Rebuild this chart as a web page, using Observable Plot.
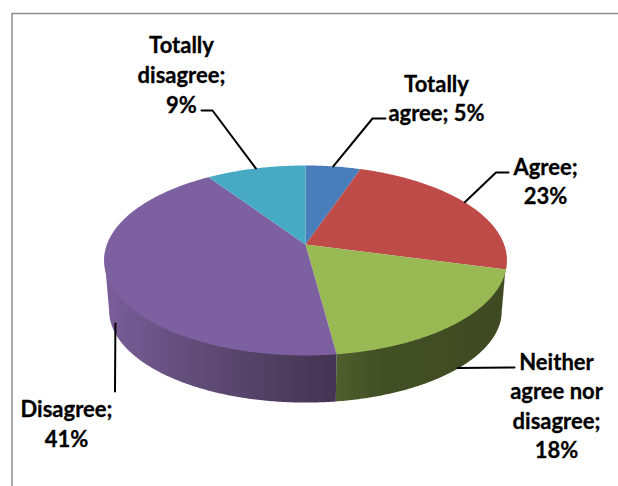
<!DOCTYPE html>
<html>
<head>
<meta charset="utf-8">
<style>
  html, body { margin: 0; padding: 0; background: #fff; }
  svg { display: block; }
</style>
<script src="https://cdn.jsdelivr.net/npm/d3@7"></script>
<script src="https://cdn.jsdelivr.net/npm/@observablehq/plot@0.6"></script>
</head>
<body>
<script>
// Survey answers, in clockwise order from twelve o'clock
const categories = ["Totally agree", "Agree", "Neither agree nor disagree", "Disagree", "Totally disagree"];
const shares = [5, 23, 18, 41, 9];
const wrappedNames = ["Totally\nagree", "Agree", "Neither\nagree nor\ndisagree", "Disagree", "Totally\ndisagree"];
const valueBreaks = [" ", "\n", "\n", "\n", "\n"];
const topColors = ["#4a7ebb", "#be4b48", "#98b954", "#7d60a0", "#46aac4"];
const sideGradients = ["#3a5f8c", "#7f3230", "url(#side-green)", "url(#side-purple)", "#327a8c"];

// Where each label sits and how its leader bends
const labelX = [436, 545, 556, 66, 181];
const labelY = [96.5, 179.5, 404, 422, 73];
const leaderStartNudge = [[0, 0], [-3, -2], [6, -4], [2.5, -5], [0, 0]];
const leaderEnds = [
  [[372, 118], [385, 118]],
  [[495.5, 172], [508, 172]],
  [[514, 367]],
  [[114.5, 391]],
  [[212, 110], [201, 110]]
];
const leaderOnBase = [false, false, true, true, false];

// Perspective view of the disc: the top face and the slightly smaller, lower base
const tilt = 0.168;
const topFace = {cx: 305, cy: 244, a: 198.6, b: 92.3};
const baseFace = {cx: 305, cy: 294.5, a: 193.6, b: 89.5};
const rimUnderlap = {cx: 305, cy: 242.5, a: 198, b: 92};
const project = (face, theta) => {
  const u = Math.sin(theta), v = Math.cos(theta), w = 1 + tilt * v;
  return [face.cx + face.a * u / w, face.cy - face.b * v / w];
};
const arc = (face, t0, t1) => {
  const n = Math.max(2, Math.ceil(Math.abs(t1 - t0) / 0.01));
  return d3.range(n + 1).map(i => project(face, t0 + (t1 - t0) * i / n));
};

// Slice boundaries in radians, normalised over the shares that were answered
const total = d3.sum(shares);
const cumulative = d3.cumsum(shares);
const angle = s => s / total * 2 * Math.PI;
const slices = categories.map((name, i) => ({
  name, i,
  t0: angle(cumulative[i] - shares[i]),
  t1: angle(cumulative[i]),
  mid: angle(cumulative[i] - shares[i] / 2)
}));

// Only the near half of the rim can be seen
const rimFrom = Math.acos(-tilt);
const rimTo = 2 * Math.PI - rimFrom;

const topRings = slices.map(s => ({
  fill: topColors[s.i],
  points: [[topFace.cx, topFace.cy], ...arc(topFace, s.t0, s.t1)]
}));
// The rim runs a little under the top face so no seam shows along the edge
const sideRings = slices
  .filter(s => s.t1 > rimFrom && s.t0 < rimTo)
  .map(s => {
    const t0 = Math.max(s.t0, rimFrom), t1 = Math.min(s.t1, rimTo);
    return {
      fill: sideGradients[s.i],
      points: [...arc(rimUnderlap, t0, t1), ...arc(baseFace, t1, t0)]
    };
  });

const labels = slices.map(s => ({
  text: `${wrappedNames[s.i]};${valueBreaks[s.i]}${shares[s.i]}%`,
  x: labelX[s.i],
  y: labelY[s.i]
}));
const leaders = slices.map(s => {
  const [x, y] = project(leaderOnBase[s.i] ? baseFace : topFace, s.mid);
  const [dx, dy] = leaderStartNudge[s.i];
  return [[x + dx, y + dy], ...leaderEnds[s.i]];
});

// Horizontal shading on the rim, darkening towards the front right
const rimShading = () => {
  const defs = d3.create("svg:defs");
  const stops = (id, list) => {
    const g = defs.append("linearGradient").attr("id", id);
    list.forEach(([o, c]) => g.append("stop").attr("offset", o).attr("stop-color", c));
  };
  stops("side-purple", [[0, "#7a5e9b"], [0.3, "#66507f"], [0.7, "#524063"], [1, "#443352"]]);
  stops("side-green", [[0, "#505f2d"], [0.25, "#434f25"], [1, "#3f4a22"]]);
  return defs.node();
};

const ringMark = r => Plot.line(r.points, {
  x: d => d[0],
  y: d => d[1],
  fill: r.fill,
  stroke: null
});

const chart = Plot.plot({
  width: 618,
  height: 486,
  margin: 0,
  x: {domain: [0, 618], range: [0, 618], axis: null},
  y: {domain: [0, 486], range: [0, 486], axis: null},
  marks: [
    rimShading,
    // Chart frame
    Plot.line([[11.5, 486], [11.5, 13], [618, 13]], {
      x: d => d[0], y: d => d[1], stroke: "#8c8c8c", strokeWidth: 1.5
    }),
    ...sideRings.map(ringMark),
    ...topRings.map(ringMark),
    ...leaders.map(points => Plot.line(points, {
      x: d => d[0], y: d => d[1], stroke: "#000", strokeWidth: 2, curve: "linear"
    })),
    Plot.text(labels, {
      x: "x", y: "y", text: "text",
      fontFamily: "Lato", fontWeight: 700, fontSize: 22, lineHeight: 1.345,
      fill: "#000", stroke: "#000", strokeWidth: 0.3, textAnchor: "middle"
    })
  ]
});
document.body.append(chart);
</script>
</body>
</html>
